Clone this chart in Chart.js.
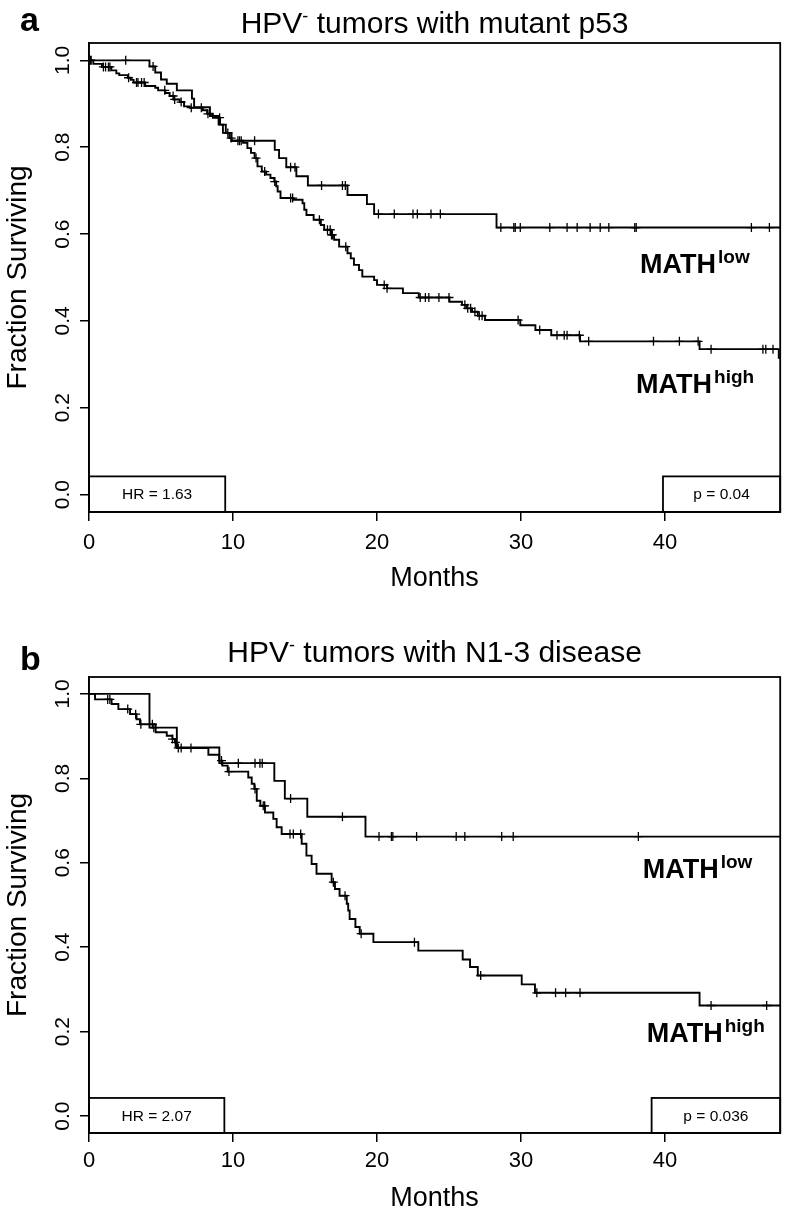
<!DOCTYPE html>
<html>
<head>
<meta charset="utf-8">
<script src="https://cdn.jsdelivr.net/npm/chart.js@4/dist/chart.umd.min.js"></script>
<style>
  body { margin: 0; background: #fff; }
  .panel { position: absolute; left: 0; width: 786px; }
</style>
</head>
<body>
<div class="panel" style="top:0"><canvas id="chartA" width="786" height="600"></canvas></div>
<div class="panel" style="top:600px"><canvas id="chartB" width="786" height="617"></canvas></div>
<script>
const FONT = '"Liberation Sans", Arial, sans-serif';

// tick labels
const xTicks = [0, 10, 20, 30, 40];
const yTicks = [0, 0.2, 0.4, 0.6, 0.8, 1.0];

// panel a : HPV- tumors with mutant p53
const aLowTimes = [4.2, 4.6, 5.0, 5.4, 6.1, 7.15, 7.3, 8.4, 9.0, 9.5, 9.9, 12.9, 13.2, 13.7, 14.4, 15.2, 17.95, 19.3, 19.8, 28.3];
const aLowSurv = [0.986, 0.972, 0.956, 0.946, 0.931, 0.912, 0.892, 0.872, 0.852, 0.833, 0.815, 0.794, 0.775, 0.754, 0.733, 0.712, 0.690, 0.669, 0.646, 0.615];
const aLowCensor = [0.1, 2.55, 4.45, 11.5, 14.0, 14.3, 16.15, 17.6, 17.8, 20.1, 21.2, 22.5, 22.8, 23.75, 24.4, 28.6, 29.5, 29.6, 29.95, 32.0, 33.2, 33.9, 34.8, 35.5, 36.1, 37.9, 38.0, 46.0, 47.25];

const aHighTimes = [0.3, 0.9, 1.55, 1.9, 2.1, 2.7, 2.9, 3.1, 3.9, 4.6, 4.8, 5.3, 5.6, 5.9, 6.3, 6.6, 7.0, 7.9, 8.2, 8.6, 9.1, 9.3, 9.75, 9.9,
  10.7, 11.0, 11.25, 11.5, 11.7, 12.0, 12.3, 12.6, 12.87, 13.0, 13.1, 13.3, 14.15, 14.83, 14.95, 15.1, 15.6, 16.1, 16.33, 16.8, 17.02, 17.37,
  17.95, 18.18, 18.4, 18.75, 18.98, 19.8, 20.0, 20.7, 21.8, 22.9, 25.03, 25.9, 26.2, 26.6, 27.0, 27.5, 29.95, 31.0, 32.1, 34.1, 42.4, 47.9];
const aHighSurv = [0.992, 0.985, 0.977, 0.970, 0.966, 0.960, 0.955, 0.949, 0.941, 0.937, 0.931, 0.925, 0.918, 0.910, 0.904, 0.894, 0.891, 0.885, 0.877, 0.868, 0.852, 0.833, 0.821, 0.815,
  0.810, 0.798, 0.787, 0.775, 0.756, 0.744, 0.737, 0.729, 0.721, 0.710, 0.698, 0.683, 0.679, 0.671, 0.656, 0.644, 0.633, 0.621, 0.610, 0.598, 0.587, 0.571,
  0.556, 0.544, 0.529, 0.517, 0.502, 0.494, 0.483, 0.475, 0.464, 0.454, 0.444, 0.437, 0.429, 0.421, 0.412, 0.402, 0.390, 0.379, 0.367, 0.353, 0.335, 0.315];
const aHighCensor = [0.15, 1.0, 1.15, 1.35, 1.45, 2.75, 3.3, 3.4, 3.65, 3.83, 5.26, 5.84, 5.95, 6.4, 7.1, 7.8, 8.26, 9.07, 9.64, 9.87, 10.34, 10.45, 10.57,
  11.6, 12.2, 12.9, 14.0, 14.14, 16.0, 16.56, 16.75, 16.84, 16.9, 17.83, 20.5, 20.7, 23.0, 23.36, 23.6, 24.3, 25.0, 26.1, 26.3, 26.5, 26.8, 27.1, 27.3,
  29.8, 31.3, 32.5, 33.0, 33.2, 34.05, 34.7, 39.2, 41.0, 42.3, 43.2, 46.8, 47.0, 47.5];

// panel b : HPV- tumors with N1-3 disease
const bLowTimes = [4.2, 6.1, 9.05, 12.87, 13.6, 15.16, 19.2];
const bLowSurv = [0.920, 0.873, 0.836, 0.794, 0.752, 0.709, 0.662];
const bLowCensor = [4.5, 10.37, 11.53, 11.87, 12.03, 14.0, 17.6, 20.14, 21.0, 21.1, 22.75, 25.5, 26.1, 28.66, 29.46, 38.15];

const bHighTimes = [0.42, 1.57, 2.04, 2.85, 3.3, 3.54, 4.63, 5.4, 5.79, 5.97, 6.09, 8.29, 9.05, 9.26, 9.63, 11.06, 11.3, 11.48, 11.65, 11.9, 12.22,
  12.8, 13.03, 13.38, 14.77, 15.1, 15.46, 15.8, 16.85, 17.08, 17.4, 17.9, 18.0, 18.1, 18.5, 18.8, 19.75, 22.87, 25.95, 26.46, 27.0, 30.05, 30.97, 42.4];
const bHighSurv = [0.987, 0.976, 0.964, 0.952, 0.940, 0.928, 0.909, 0.901, 0.893, 0.885, 0.872, 0.856, 0.842, 0.830, 0.816, 0.802, 0.787, 0.775, 0.747, 0.735, 0.719,
  0.704, 0.684, 0.668, 0.645, 0.617, 0.597, 0.574, 0.554, 0.538, 0.522, 0.503, 0.487, 0.467, 0.448, 0.432, 0.412, 0.392, 0.371, 0.353, 0.333, 0.312, 0.292, 0.262];
const bHighCensor = [1.3, 1.45, 2.69, 3.24, 3.6, 4.4, 5.8, 6.0, 6.2, 6.4, 7.08, 9.2, 9.72, 11.53, 12.1, 12.2, 13.96, 14.19, 14.7, 16.97, 17.78, 18.9,
  22.6, 27.2, 31.1, 32.4, 33.1, 34.1, 43.2, 47.06];

const X_MAX = 48;

function survAt(times, surv, t) {
  let s = 1;
  for (let i = 0; i < times.length; i++) {
    if (times[i] <= t) s = surv[i];
  }
  return s;
}

function kmLine(times, surv) {
  const pts = [{x: 0, y: 1}];
  times.forEach((t, i) => pts.push({x: t, y: surv[i]}));
  pts.push({x: X_MAX, y: surv[surv.length - 1]});
  return {
    data: pts, stepped: true, borderColor: '#000', borderWidth: 1.9,
    pointRadius: 0, fill: false
  };
}

function censorMarks(times, surv, cens) {
  return {
    data: cens.map(t => ({x: t, y: survAt(times, surv, t)})),
    showLine: false, pointStyle: 'cross', pointRadius: 4.5,
    borderColor: '#000', borderWidth: 1.3, backgroundColor: '#000'
  };
}

function supText(ctx, x, y, base, sup, size, supSize, raise, weight) {
  ctx.textAlign = 'left';
  ctx.textBaseline = 'alphabetic';
  ctx.font = weight + size + 'px ' + FONT;
  ctx.fillText(base, x, y);
  const w = ctx.measureText(base).width;
  ctx.font = weight + supSize + 'px ' + FONT;
  ctx.fillText(sup, x + w + 2, y - raise);
}

function makePanel(p) {
  const extras = {
    id: 'extras' + p.letter,
    afterDraw(chart) {
      const {ctx, chartArea: a, scales: {x, y}} = chart;
      ctx.save();
      ctx.strokeStyle = '#000';
      ctx.fillStyle = '#000';
      ctx.lineWidth = 1.8;
      ctx.strokeRect(a.left, a.top, a.right - a.left, a.bottom - a.top);

      // HR / p boxes
      ctx.font = '15.5px ' + FONT;
      ctx.textAlign = 'center';
      ctx.textBaseline = 'middle';
      [[p.hrBox, p.hr], [p.pBox, p.p]].forEach(([b, txt]) => {
        const x0 = x.getPixelForValue(b[0]), x1 = x.getPixelForValue(b[1]);
        const y0 = y.getPixelForValue(p.boxTop), y1 = a.bottom;
        ctx.strokeRect(x0, y0, x1 - x0, y1 - y0);
        ctx.fillText(txt, (x0 + x1) / 2, (y0 + y1) / 2 + 1);
      });

      // group labels
      supText(ctx, x.getPixelForValue(p.lowLabel[0]), y.getPixelForValue(p.lowLabel[1]), 'MATH', 'low', 27, 19, 10, 'bold ');
      supText(ctx, x.getPixelForValue(p.highLabel[0]), y.getPixelForValue(p.highLabel[1]), 'MATH', 'high', 27, 19, 10, 'bold ');

      // title with superscript minus
      ctx.font = '30px ' + FONT;
      const w1 = ctx.measureText('HPV').width;
      const w3 = ctx.measureText(p.titleRest).width;
      ctx.font = '18px ' + FONT;
      const w2 = ctx.measureText('-').width;
      const tx = (a.left + a.right) / 2 - (w1 + w2 + w3) / 2;
      ctx.textAlign = 'left';
      ctx.textBaseline = 'alphabetic';
      ctx.font = '30px ' + FONT;
      ctx.fillText('HPV', tx, p.titleBase);
      ctx.font = '18px ' + FONT;
      ctx.fillText('-', tx + w1, p.titleBase - 11);
      ctx.font = '30px ' + FONT;
      ctx.fillText(p.titleRest, tx + w1 + w2, p.titleBase);

      // panel letter
      ctx.font = 'bold 34px ' + FONT;
      ctx.fillText(p.letter, 20, p.letterBase);
      ctx.restore();
    }
  };

  return new Chart(document.getElementById(p.canvas), {
    type: 'line',
    data: {
      datasets: [
        kmLine(p.low.t, p.low.s),
        kmLine(p.high.t, p.high.s),
        censorMarks(p.low.t, p.low.s, p.low.c),
        censorMarks(p.high.t, p.high.s, p.high.c)
      ]
    },
    options: {
      responsive: false,
      animation: false,
      events: [],
      layout: {padding: {top: p.top, right: p.right, left: 0, bottom: 0}},
      plugins: {legend: {display: false}, tooltip: {enabled: false}, title: {display: false}},
      scales: {
        x: {
          type: 'linear', min: 0, max: X_MAX,
          afterBuildTicks: s => { s.ticks = xTicks.map(v => ({value: v})); },
          afterFit: s => { s.height = p.xAxisH; },
          grid: {drawOnChartArea: false, tickLength: 9, color: '#000', lineWidth: 1.5},
          border: {color: '#000', width: 1.5},
          ticks: {color: '#000', font: {family: FONT, size: 22}, padding: p.xTickPad, maxRotation: 0, callback: v => String(v)},
          title: {display: true, text: 'Months', color: '#000', font: {family: FONT, size: 27}, padding: {top: 0, bottom: p.xTitlePad}}
        },
        y: {
          type: 'linear', min: -0.04, max: 1.04,
          afterBuildTicks: s => { s.ticks = yTicks.map(v => ({value: v})); },
          afterFit: s => { s.width = 89; },
          grid: {drawOnChartArea: false, tickLength: 9, color: '#000', lineWidth: 1.5},
          border: {color: '#000', width: 1.5},
          ticks: {color: '#000', font: {family: FONT, size: 21}, padding: 2.4, minRotation: 90, maxRotation: 90,
                  crossAlign: 'center', callback: v => v.toFixed(1)},
          title: {display: true, text: 'Fraction Surviving', color: '#000', font: {family: FONT, size: 28}, padding: {top: 1.2, bottom: 0}}
        }
      }
    },
    plugins: [extras]
  });
}

makePanel({
  canvas: 'chartA', letter: 'a', letterBase: 31, titleBase: 33, titleRest: ' tumors with mutant p53',
  top: 43, right: 3, xAxisH: 88, xTitlePad: 5, xTickPad: 9,
  low: {t: aLowTimes, s: aLowSurv, c: aLowCensor},
  high: {t: aHighTimes, s: aHighSurv, c: aHighCensor},
  hr: 'HR = 1.63', p: 'p = 0.04', hrBox: [0, 9.46], pBox: [39.86, 48], boxTop: 0.042,
  lowLabel: [38.27, 0.51], highLabel: [37.99, 0.233]
});

makePanel({
  canvas: 'chartB', letter: 'b', letterBase: 70, titleBase: 62, titleRest: ' tumors with N1-3 disease',
  top: 77, right: 5, xAxisH: 84, xTitlePad: 1.8, xTickPad: 6,
  low: {t: bLowTimes, s: bLowSurv, c: bLowCensor},
  high: {t: bHighTimes, s: bHighSurv, c: bHighCensor},
  hr: 'HR = 2.07', p: 'p = 0.036', hrBox: [0, 9.4], pBox: [39.07, 48], boxTop: 0.043,
  lowLabel: [38.45, 0.565], highLabel: [38.73, 0.175]
});
</script>
</body>
</html>
